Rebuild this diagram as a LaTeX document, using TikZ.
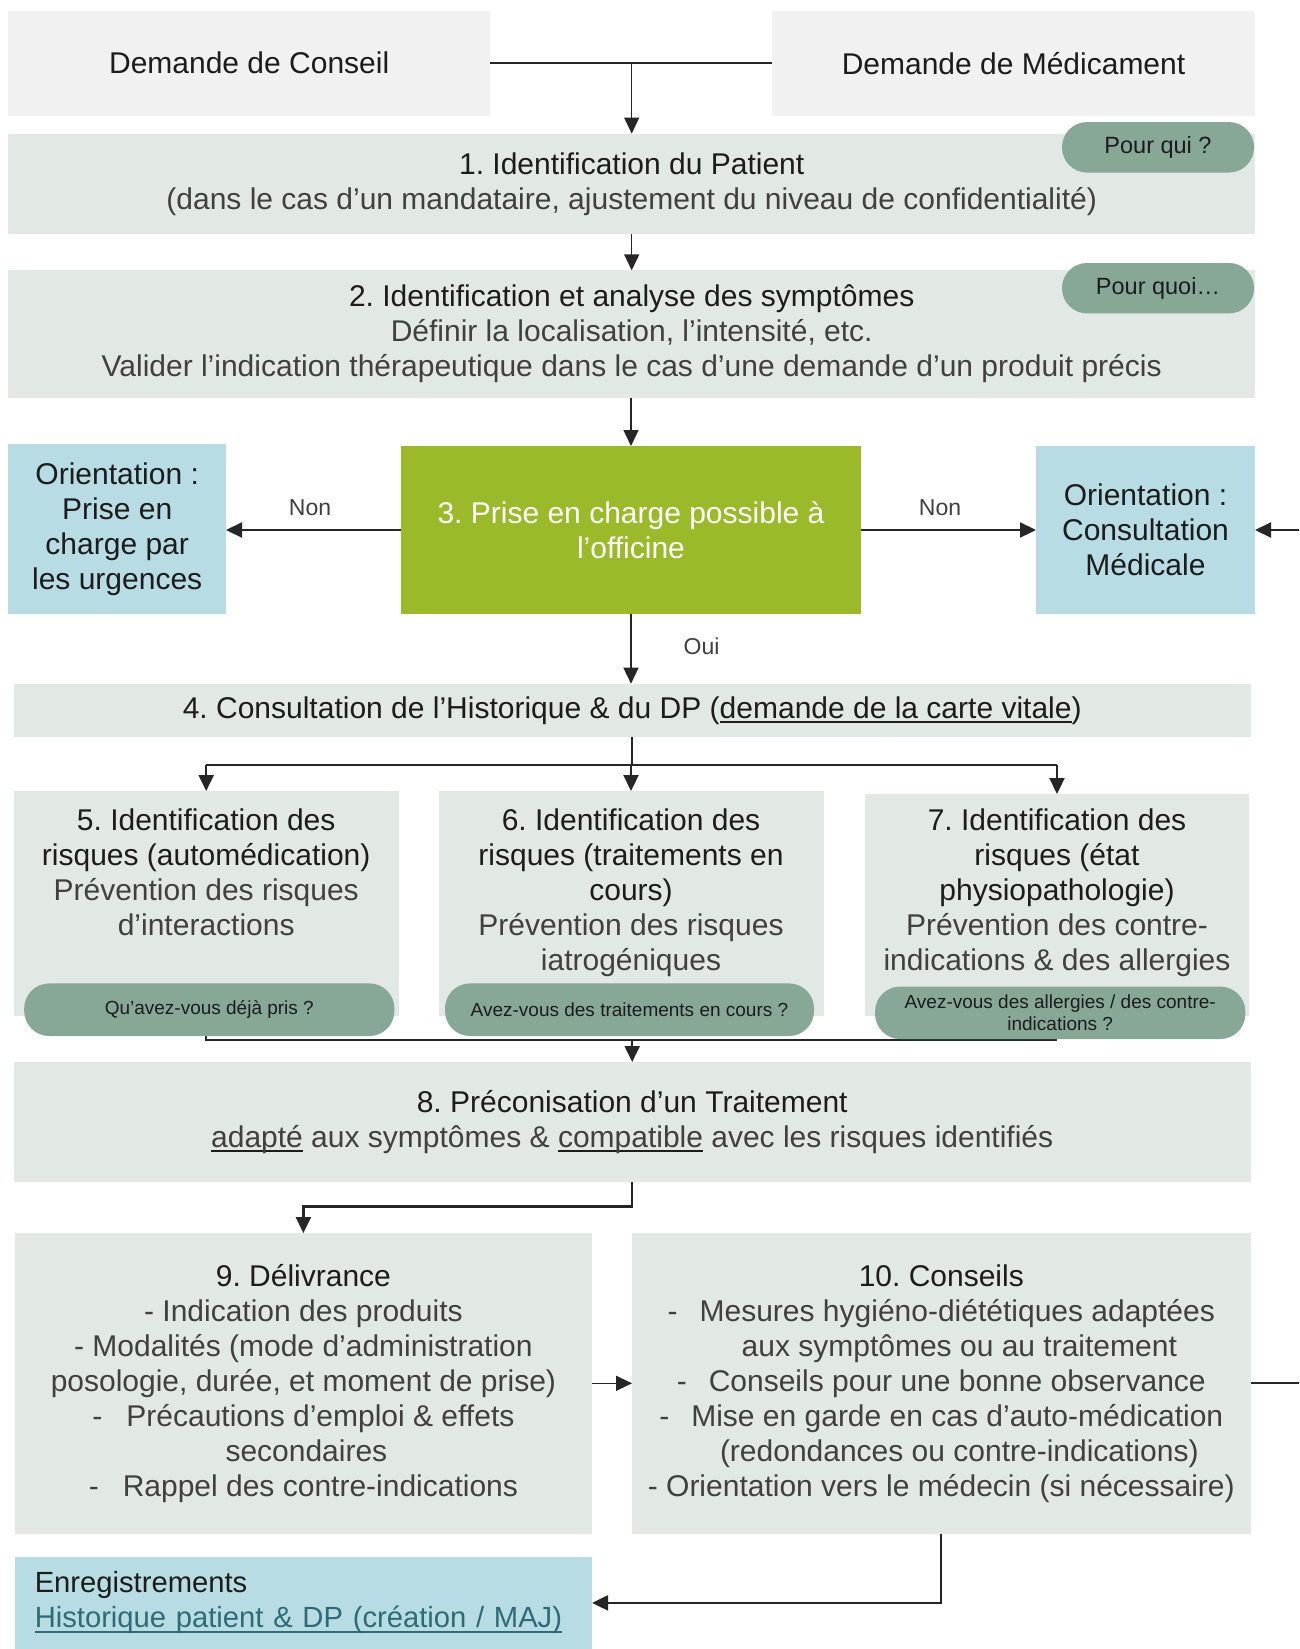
\documentclass[tikz,border=0pt]{standalone}
\usepackage{fontspec}
\setmainfont{Liberation Sans}
\usetikzlibrary{arrows.meta}
\frenchspacing
\definecolor{topgray}{HTML}{F1F1F1}
\definecolor{boxgray}{HTML}{E2E8E4}
\definecolor{pillcol}{HTML}{87A896}
\definecolor{grncol}{HTML}{9BBA29}
\definecolor{blucol}{HTML}{B7DCE3}
\definecolor{tdark}{HTML}{1C1C1C}
\definecolor{tgray}{HTML}{404040}
\definecolor{linkteal}{HTML}{2E6B78}
\definecolor{lncol}{HTML}{262626}
\newcommand{\myul}[2][tdark]{\setbox0=\hbox{#2}\rlap{\textcolor{#1}{\rule[-5pt]{\wd0}{2.2pt}}}\box0\relax}
\begin{document}
\begin{tikzpicture}[x=1pt,y=-1pt,
  base/.style={inner sep=0pt, outer sep=0pt, align=center, text=tdark, font=\fontsize{30}{35}\selectfont\frenchspacing},
  bx/.style 2 args={minimum width=#1pt, minimum height=#2pt},
  topbox/.style={base, fill=topgray},
  gbox/.style={base, fill=boxgray},
  bluebox/.style={base, fill=blucol},
  greenbox/.style={base, fill=grncol, text=white},
  pill/.style={base, fill=pillcol, rounded corners=25pt, font=\fontsize{19}{22.5}\selectfont\frenchspacing},
  bigpill/.style={pill, font=\fontsize{23.5}{28}\selectfont},
  lbl/.style={inner sep=0pt, text=tgray, font=\fontsize{23}{28}\selectfont},
  cthin/.style={draw=lncol, line width=1.4pt},
  cthick/.style={draw=lncol, line width=2.2pt},
  athin/.style={cthin, -{Triangle[length=16pt,width=15pt]}},
  athick/.style={cthick, -{Triangle[length=16pt,width=15pt]}}]
\clip (0,0) rectangle (1299,1649);
\fill[white] (0,0) rectangle (1299,1649);

% top boxes
\node[topbox, bx={481.6}{105.2}] (cA) at (249.2,63.1) {Demande de Conseil};
\node[topbox, bx={483}{105.2}] (cB) at (1013.5,63.1) {Demande de Médicament};

% box 1
\node[gbox, bx={1246.6}{100.9}] (b1) at (631.7,184) {1. Identification du Patient\\\textcolor{tgray}{(dans le cas d’un mandataire, ajustement du niveau de confidentialité)}};
\node[bigpill, bx={192}{50.5}] (q1) at (1158,147.3) {Pour qui~?};

% box 2
\node[gbox, bx={1246.6}{127.3}] (b2) at (631.7,334) {2. Identification et analyse des symptômes\\\textcolor{tgray}{Définir la localisation, l’intensité, etc.}\\\textcolor{tgray}{Valider l’indication thérapeutique dans le cas d’une demande d’un produit précis}};
\node[bigpill, bx={192}{50.4}] (q2) at (1158,288.2) {Pour quoi…};

% row 3
\node[bluebox, bx={217.6}{170.1}] (oL) at (117.2,529) {Orientation~:\\Prise en\\charge par\\les urgences};
\node[greenbox, bx={460.7}{168}] (b3) at (631,530) {3. Prise en charge possible à\\l’officine};
\node[bluebox, bx={219}{168}] (oR) at (1145.5,530) {Orientation~:\\Consultation\\Médicale};

% box 4
\node[gbox, bx={1236.9}{53.6}] (b4) at (632.2,710.5) {4. Consultation de l’Historique \& du DP (\myul{demande de la carte vitale})};

% boxes 5-7
\node[gbox, bx={384.9}{225}] (b5) at (206.2,903.5) {};
\node[gbox, bx={385}{225}] (b6) at (631,903.5) {};
\node[gbox, bx={384.9}{222}] (b7) at (1057,905) {};
\node[base] (t5) at (206.2,872) {5. Identification des\\risques (automédication)\\\textcolor{tgray}{Prévention des risques}\\\textcolor{tgray}{d’interactions}};
\node[base] (t6) at (631,893) {6. Identification des\\risques (traitements en\\cours)\\\textcolor{tgray}{Prévention des risques}\\\textcolor{tgray}{iatrogéniques}};
\node[base] (t7) at (1057,893) {7. Identification des\\risques (état\\physiopathologie)\\\textcolor{tgray}{Prévention des contre-}\\\textcolor{tgray}{indications \& des allergies}};

% merge line under pills
\coordinate (mg) at (631,1040);
\draw[cthick] (b5.south) coordinate (m5) -- (m5 |- mg) -- (mg -| b7.south);

\node[pill, bx={370.2}{52.6}] (p5) at (209.3,1009.7) {Qu’avez-vous déjà pris~?};
\node[pill, bx={369}{52.6}] (p6) at (629.5,1009.7) {Avez-vous des traitements en cours~?};
\node[pill, bx={370.3}{52.4}] (p7) at (1060.2,1012.8) {Avez-vous des allergies / des contre-\\indications~?};

% box 8
\node[gbox, bx={1236.9}{120}] (b8) at (632.2,1122) {8. Préconisation d’un Traitement\\\textcolor{tgray}{\myul{adapté} aux symptômes \& \myul{compatible} avec les risques identifiés}};

% boxes 9, 10
\node[gbox, bx={577.3}{300.5}] (b9) at (303.4,1383.3) {9. Délivrance\\\textcolor{tgray}{- Indication des produits}\\\textcolor{tgray}{- Modalités (mode d’administration}\\\textcolor{tgray}{posologie, durée, et moment de prise)}\\\textcolor{tgray}{-\hspace{24pt}Précautions d’emploi \& effets}\\\textcolor{tgray}{\hspace*{6pt}secondaires}\\\textcolor{tgray}{-\hspace{24pt}Rappel des contre-indications}};
\node[gbox, bx={618.6}{300.5}] (b10) at (941.3,1383.3) {10. Conseils\\\textcolor{tgray}{-\hspace{22pt}Mesures hygiéno-diététiques adaptées}\\\textcolor{tgray}{\hspace*{36pt}aux symptômes ou au traitement}\\\textcolor{tgray}{-\hspace{22pt}Conseils pour une bonne observance}\\\textcolor{tgray}{-\hspace{22pt}Mise en garde en cas d’auto-médication}\\\textcolor{tgray}{\hspace*{36pt}(redondances ou contre-indications)}\\\textcolor{tgray}{- Orientation vers le médecin (si nécessaire)}};

% enregistrements
\node[base, fill=blucol, text width=537.3pt, inner xsep=20pt, minimum height=92.3pt, align=left, font=\fontsize{29.2}{35}\selectfont] (en) at (303.4,1602.9) {Enregistrements\\\textcolor{linkteal}{\myul[linkteal]{Historique patient \& DP (création / MAJ)}}};

% connectors
\draw[cthin] (cA.east) -- (cB.west);
\draw[athin] (cA.east -| b1.north) -- (b1.north);
\draw[athin] (b1.south) -- (b2.north);
\draw[athin] (b3.north |- b2.south) -- (b3.north);
\draw[athick] (b3.west) -- (b3.west -| oL.east);
\draw[athick] (b3.east) -- (b3.east -| oR.west);
\node[lbl] (nonL) at (310,508) {Non};
\node[lbl] (nonR) at (940,508) {Non};
\draw[athin] (b3.south) -- (b3.south |- b4.north);
\node[lbl] (oui) at (701.5,646) {Oui};

\coordinate (jn) at (631,765);
\draw[cthick] (b4.south) -- (b4.south |- jn);
\draw[cthick] (jn -| b5.north) -- (jn -| b7.north);
\draw[athick] (jn -| b5.north) -- (b5.north);
\draw[athick] (jn -| b6.north) -- (b6.north);
\draw[athick] (jn -| b7.north) -- (b7.north);

\draw[athick] (mg -| b8.north) -- (b8.north);
\draw[athick] (b8.south) -- ++(0,24.5) -| (b9.north);
\draw[athin] (b9.east) -- (b10.west);
\draw[athick] (b10.east) -- ++(60,0) |- (oR.east);
\draw[athick] (b10.south) |- (en.east);
\end{tikzpicture}
\end{document}
